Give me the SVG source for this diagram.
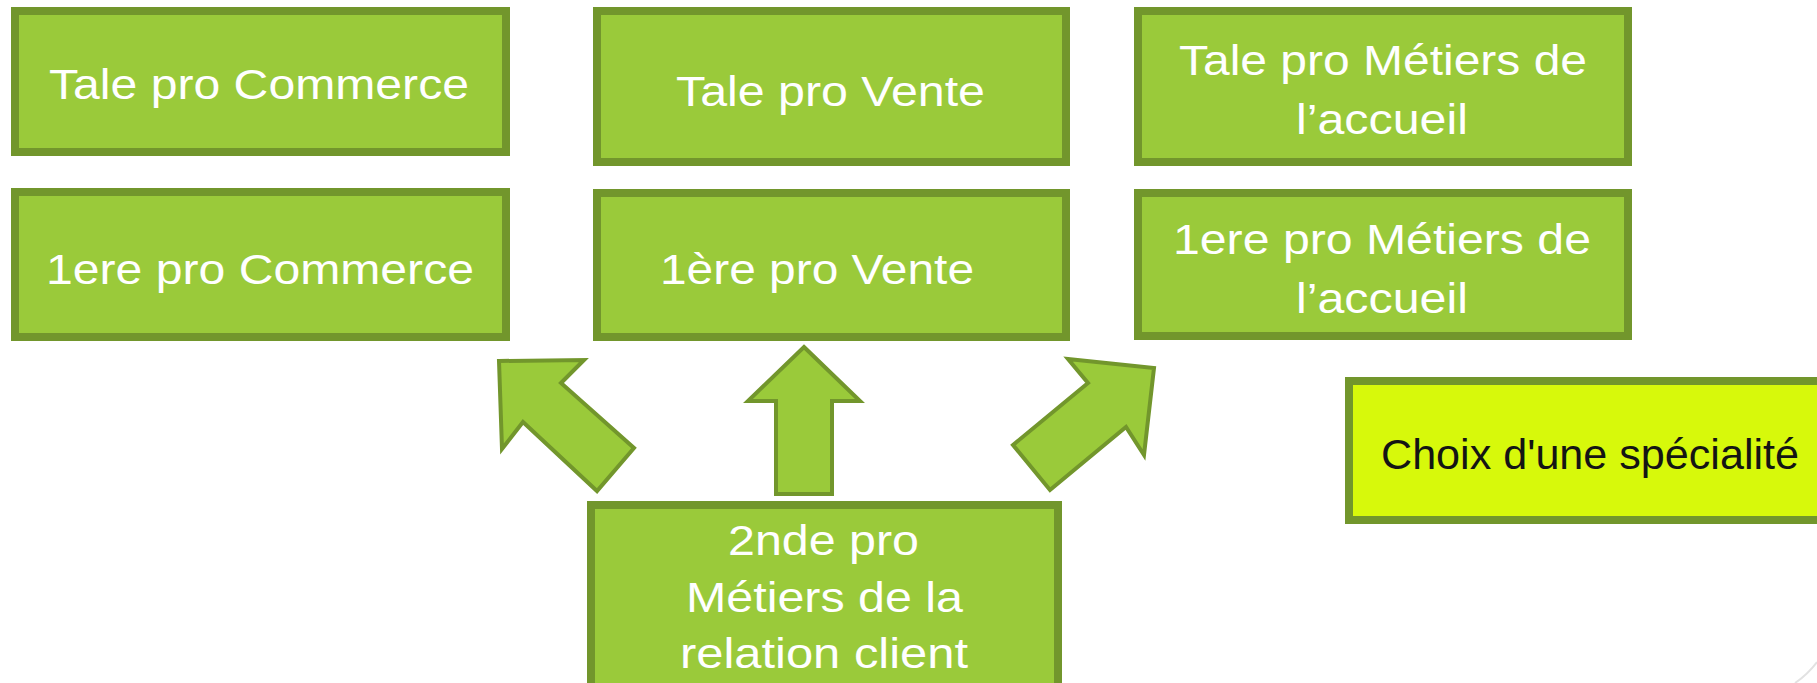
<svg xmlns="http://www.w3.org/2000/svg" width="1817" height="683" viewBox="0 0 1817 683">
  <style>
    .box { fill: #9aca3a; stroke: #72962c; stroke-width: 8; }
    .choix { fill: #d7f90b; stroke: #72962c; stroke-width: 8; }
    .lbl { font-family: "Liberation Sans", Arial, sans-serif; font-size: 43px; fill: #ffffff; }
    .lbl-dark { font-family: "Liberation Sans", Arial, sans-serif; font-size: 43px; fill: #141414; }
    .arrow { fill: #9aca3a; stroke: #72962c; stroke-width: 4; stroke-linejoin: miter; }
  </style>
  <rect x="0" y="0" width="1817" height="683" fill="#ffffff"/>

  <g id="connectors">
    <polygon class="arrow" points="499,361 584,360 561,383 634,448 597,491 523,422 502,449"/>
    <polygon class="arrow" points="804,347 860,401 832,401 832,494 776,494 776,401 748,401"/>
    <polygon class="arrow" points="1068,359 1154,368 1144,455 1126,427 1050,490 1013,445 1088,383"/>
  </g>

  <g id="tale-commerce">
    <rect class="box" x="15" y="11" width="491" height="141"/>
    <text class="lbl" x="49" y="99" textLength="420" lengthAdjust="spacingAndGlyphs">Tale pro Commerce</text>
  </g>
  <g id="tale-vente">
    <rect class="box" x="597" y="11" width="469" height="151"/>
    <text class="lbl" x="676" y="106" textLength="309" lengthAdjust="spacingAndGlyphs">Tale pro Vente</text>
  </g>
  <g id="tale-accueil">
    <rect class="box" x="1138" y="11" width="490" height="151"/>
    <text class="lbl" x="1179" y="75" textLength="408" lengthAdjust="spacingAndGlyphs">Tale pro Métiers de</text>
    <text class="lbl" x="1296" y="134" textLength="172" lengthAdjust="spacingAndGlyphs">l’accueil</text>
  </g>
  <g id="premiere-commerce">
    <rect class="box" x="15" y="192" width="491" height="145"/>
    <text class="lbl" x="46" y="284" textLength="428" lengthAdjust="spacingAndGlyphs">1ere pro Commerce</text>
  </g>
  <g id="premiere-vente">
    <rect class="box" x="597" y="193" width="469" height="144"/>
    <text class="lbl" x="660" y="284" textLength="314" lengthAdjust="spacingAndGlyphs">1ère pro Vente</text>
  </g>
  <g id="premiere-accueil">
    <rect class="box" x="1138" y="193" width="490" height="143"/>
    <text class="lbl" x="1173" y="254" textLength="418" lengthAdjust="spacingAndGlyphs">1ere pro Métiers de</text>
    <text class="lbl" x="1296" y="313" textLength="172" lengthAdjust="spacingAndGlyphs">l’accueil</text>
  </g>
  <g id="seconde-mrc">
    <rect class="box" x="591" y="505" width="467" height="200"/>
    <text class="lbl" x="728" y="555" textLength="191" lengthAdjust="spacingAndGlyphs">2nde pro</text>
    <text class="lbl" x="686" y="612" textLength="277" lengthAdjust="spacingAndGlyphs">Métiers de la</text>
    <text class="lbl" x="680" y="668" textLength="288" lengthAdjust="spacingAndGlyphs">relation client</text>
  </g>
  <g id="choix">
    <rect class="choix" x="1349" y="381" width="500" height="139"/>
    <text class="lbl-dark" x="1381" y="469" textLength="418" lengthAdjust="spacingAndGlyphs">Choix d'une spécialité</text>
  </g>
  <path d="M1795,683 Q1808,674 1817,662" fill="none" stroke="#e2e2e2" stroke-width="2"/>
</svg>
